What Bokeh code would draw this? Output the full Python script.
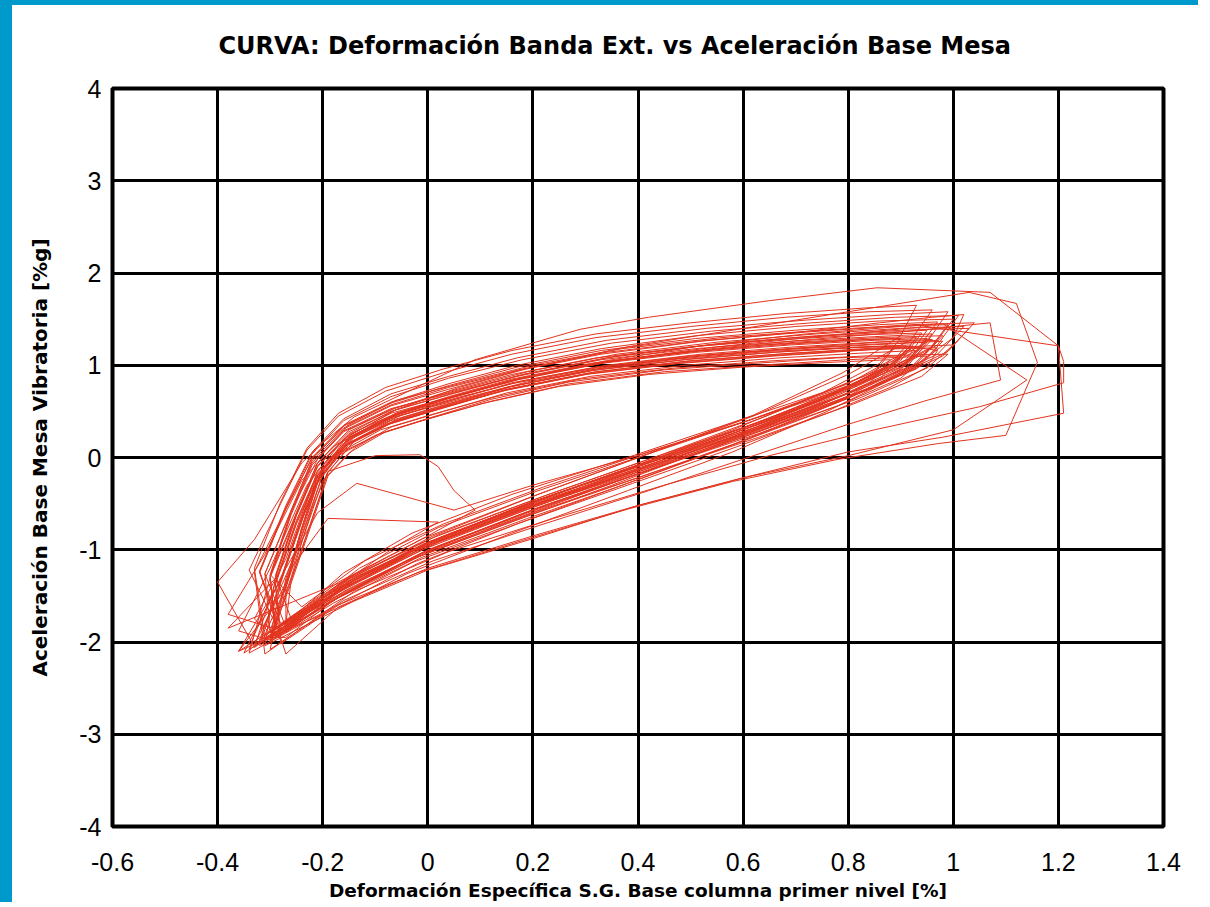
from bokeh.plotting import figure
from bokeh.models import FixedTicker, Range1d
from bokeh.embed import file_html
from bokeh.resources import INLINE

title_text = "CURVA: Deformación Banda Ext. vs Aceleración Base Mesa"
x_label = "Deformación Específica S.G. Base columna primer nivel [%]"
y_label = "Aceleración Base Mesa Vibratoria [%g]"

x_ticks = [-0.6, -0.4, -0.2, 0, 0.2, 0.4, 0.6, 0.8, 1, 1.2, 1.4]
x_tick_labels = ["-0.6", "-0.4", "-0.2", "0", "0.2", "0.4", "0.6", "0.8", "1", "1.2", "1.4"]
y_ticks = [-4, -3, -2, -1, 0, 1, 2, 3, 4]
y_tick_labels = ["-4", "-3", "-2", "-1", "0", "1", "2", "3", "4"]

# strain [%] trace, one row per cycle
strain = [
    -0.28, -0.24, -0.21, -0.16, -0.08, 0.02, 0.14, 0.30, 0.48, 0.66, 0.82, 0.94, 0.90, 0.78, 0.60, 0.40, 0.18, -0.02, -0.17, -0.29,
    -0.30, -0.25, -0.21, -0.15, -0.06, 0.05, 0.18, 0.34, 0.52, 0.70, 0.86, 0.98, 0.93, 0.80, 0.62, 0.42, 0.20, 0.00, -0.16, -0.31,
    -0.27, -0.23, -0.20, -0.15, -0.08, 0.01, 0.12, 0.27, 0.45, 0.62, 0.78, 0.90, 0.86, 0.74, 0.56, 0.36, 0.15, -0.04, -0.18, -0.27,
    -0.30, -0.26, -0.22, -0.19, -0.10, -0.015, 0.02, 0.05, 0.09, 0.00, -0.15, -0.28,
    -0.32, -0.27, -0.22, -0.16, -0.07, 0.04, 0.17, 0.33, 0.51, 0.70, 0.86, 1.00, 0.96, 0.84, 0.66, 0.46, 0.24, 0.03, -0.14, -0.30,
    -0.26, -0.22, -0.19, -0.14, -0.06, 0.04, 0.16, 0.32, 0.50, 0.68, 0.83, 0.92, 0.88, 0.76, 0.58, 0.38, 0.16, -0.03, -0.16, -0.26,
    -0.29, -0.25, -0.21, -0.15, -0.06, 0.05, 0.19, 0.36, 0.55, 0.74, 0.90, 1.02, 0.97, 0.84, 0.65, 0.44, 0.22, 0.01, -0.15, -0.33,
    -0.40, -0.33, -0.24, -0.20, -0.14, 0.09, 0.29, 0.42, 0.65, 0.855, 1.07, 1.20, 1.21, 0.98, 0.80, 0.60, 0.40, 0.20, 0.00, -0.20, -0.36,
    -0.27, -0.24, -0.21, -0.17, -0.10, -0.01, 0.10, 0.25, 0.42, 0.60, 0.76, 0.88, 0.84, 0.72, 0.54, 0.34, 0.13, -0.05, -0.19, -0.28,
    -0.34, -0.28, -0.23, -0.17, -0.08, 0.03, 0.16, 0.32, 0.50, 0.68, 0.84, 0.96, 0.92, 0.80, 0.62, 0.42, 0.20, -0.01, -0.17, -0.32,
    -0.28, -0.24, -0.20, -0.14, -0.05, 0.06, 0.19, 0.35, 0.53, 0.71, 0.86, 0.97, 0.92, 0.79, 0.61, 0.41, 0.19, -0.01, -0.17, -0.30,
    -0.36, -0.30, -0.23, -0.16, -0.06, 0.06, 0.20, 0.38, 0.58, 0.80, 1.03, 1.12, 1.16, 1.10, 0.97, 0.78, 0.58, 0.38, 0.18, -0.02, -0.18, -0.34,
    -0.30, -0.26, -0.22, -0.16, -0.07, 0.03, 0.16, 0.32, 0.50, 0.68, 0.83, 0.94, 0.90, 0.78, 0.60, 0.40, 0.19, -0.01, -0.16, -0.28,
    -0.29, -0.25, -0.21, -0.16, -0.09, 0.01, 0.13, 0.29, 0.47, 0.66, 0.83, 0.99, 0.94, 0.81, 0.63, 0.43, 0.21, 0.01, -0.15, -0.34,
    -0.33, -0.28, -0.21, -0.135, 0.05, 0.20, 0.40, 0.60, 0.80, 0.92, 0.86, 0.74, 0.56, 0.36, 0.15, -0.04, -0.18, -0.30,
    -0.31, -0.26, -0.21, -0.15, -0.06, 0.06, 0.20, 0.37, 0.56, 0.75, 0.92, 1.04, 0.99, 0.86, 0.67, 0.46, 0.24, 0.03, -0.14, -0.27,
    -0.27, -0.23, -0.20, -0.15, -0.07, 0.03, 0.15, 0.31, 0.49, 0.66, 0.81, 0.91, 0.87, 0.75, 0.57, 0.37, 0.16, -0.03, -0.18, -0.29,
    -0.38, -0.31, -0.24, -0.18, -0.09, 0.02, 0.16, 0.34, 0.55, 0.76, 0.95, 1.20, 1.21, 1.21, 1.05, 0.85, 0.65, 0.45, 0.24, 0.04, -0.14, -0.31,
    -0.33, -0.27, -0.22, -0.16, -0.07, 0.04, 0.18, 0.34, 0.53, 0.72, 0.88, 0.99, 0.95, 0.82, 0.64, 0.44, 0.22, 0.02, -0.15, -0.36,
    -0.28, -0.24, -0.20, -0.15, -0.06, 0.04, 0.17, 0.33, 0.51, 0.69, 0.85, 0.95, 0.90, 0.77, 0.58, 0.38, 0.17, -0.02, -0.17, -0.28,
    -0.29, -0.25, -0.21, -0.16, -0.08, 0.02, 0.15, 0.31, 0.49, 0.67, 0.84, 0.97, 0.93, 0.80, 0.62, 0.42, 0.20, 0.00, -0.15, -0.30,
    -0.33, -0.27, -0.22, -0.16, -0.07, 0.04, 0.17, 0.34, 0.53, 0.72, 0.90, 0.98, 1.14, 1.00, 0.80, 0.60, 0.40, 0.20, 0.00, -0.17, -0.27,
    -0.32, -0.27, -0.22, -0.16, -0.07, 0.04, 0.18, 0.35, 0.54, 0.73, 0.89, 1.01, 0.97, 0.85, 0.66, 0.45, 0.23, 0.02, -0.15, -0.30,
    -0.26, -0.22, -0.19, -0.14, -0.07, 0.03, 0.15, 0.31, 0.49, 0.67, 0.82, 0.93, 0.90, 0.78, 0.61, 0.42, 0.21, 0.02, -0.13, -0.25,
    -0.30, -0.26, -0.19, 0.02, -0.06, -0.16, -0.29,
    -0.30, -0.25, -0.21, -0.15, -0.06, 0.05, 0.18, 0.34, 0.52, 0.70, 0.85, 0.95, 0.91, 0.79, 0.61, 0.41, 0.19, -0.01, -0.17, -0.32,
    -0.28, -0.24, -0.21, -0.15, -0.07, 0.04, 0.16, 0.32, 0.50, 0.69, 0.85, 0.98, 0.93, 0.80, 0.61, 0.41, 0.19, -0.01, -0.16, -0.29,
    -0.31, -0.26, -0.21, -0.15, -0.06, 0.05, 0.18, 0.35, 0.54, 0.73, 0.90, 1.07, 1.09, 0.95, 0.80, 0.62, 0.42, 0.21, 0.01, -0.16, -0.30,
    -0.27, -0.23, -0.20, -0.14, -0.06, 0.04, 0.16, 0.31, 0.48, 0.64, 0.79, 0.90, 0.86, 0.75, 0.58, 0.39, 0.18, -0.01, -0.16, -0.27,
    -0.31, -0.26, -0.22, -0.16, -0.07, 0.04, 0.17, 0.33, 0.51, 0.70, 0.86, 0.97, 0.93, 0.81, 0.63, 0.43, 0.21, 0.01, -0.16, -0.33,
    -0.29, -0.25, -0.21, -0.15, -0.07, 0.03, 0.16, 0.32, 0.50, 0.69, 0.86, 1.00, 0.95, 0.82, 0.63, 0.42, 0.20, 0.00, -0.16, -0.31,
    -0.33, -0.28, -0.23, -0.17, -0.08, 0.03, 0.16, 0.32, 0.50, 0.68, 0.83, 0.93, 0.90, 0.79, 0.62, 0.42, 0.21, 0.01, -0.15, -0.30,
    -0.27, -0.24, -0.21, -0.17, -0.09, 0.00, 0.12, 0.27, 0.45, 0.63, 0.80, 0.95, 0.90, 0.78, 0.60, 0.40, 0.18, -0.02, -0.17, -0.29,
    -0.30, -0.26, -0.22, -0.16, -0.07, 0.05, 0.19, 0.36, 0.55, 0.74, 0.90, 1.03, 0.98, 0.85, 0.66, 0.45, 0.23, 0.02, -0.15, -0.35,
    -0.28, -0.24, -0.20, -0.14, -0.06, 0.05, 0.18, 0.34, 0.52, 0.70, 0.85, 0.96, 0.91, 0.79, 0.61, 0.41, 0.19, -0.01, -0.17, -0.27,
    -0.26, -0.22, -0.19, -0.14, -0.06, 0.04, 0.16, 0.31, 0.48, 0.65, 0.79, 0.89, 0.85, 0.74, 0.57, 0.38, 0.17, -0.02, -0.17, -0.28,
    -0.32, -0.27, -0.22, -0.16, -0.07, 0.04, 0.17, 0.34, 0.53, 0.72, 0.88, 0.99, 0.95, 0.83, 0.64, 0.44, 0.22, 0.01, -0.16, -0.38,
    -0.29, -0.25, -0.21, -0.15, -0.07, 0.04, 0.17, 0.33, 0.51, 0.69, 0.84, 0.93, 0.89, 0.77, 0.59, 0.40, 0.18, -0.02, -0.17, -0.30,
    -0.28, -0.24, -0.20, -0.15, -0.07, 0.03, 0.16, 0.32, 0.50, 0.68, 0.84, 0.95, 0.90, 0.76, 0.58, 0.38, 0.16, -0.04, -0.19, -0.31,
    -0.29, -0.25, -0.21, -0.15, -0.07, 0.04, 0.17, 0.33, 0.51, 0.69, 0.85, 0.96, 0.92, 0.80, 0.63, 0.43, 0.22, 0.03, -0.12, -0.24,
    -0.30, -0.26, -0.22, -0.16, -0.07, 0.04, 0.17, 0.33, 0.52, 0.71, 0.86, 0.96, 1.02, 1.00, 0.93, 0.82, 0.64, 0.44, 0.22, 0.02, -0.15, -0.33,
    -0.27, -0.23, -0.20, -0.15, -0.07, 0.03, 0.15, 0.31, 0.49, 0.67, 0.82, 0.92, 0.97, 0.95, 0.88, 0.77, 0.59, 0.39, 0.17, -0.03, -0.18, -0.29,
]

# table-base acceleration [%g] trace, same rows as strain
accel = [
    -1.35, -0.70, -0.20, 0.12, 0.35, 0.52, 0.72, 0.90, 1.02, 1.10, 1.16, 1.20, 0.95, 0.65, 0.28, -0.12, -0.55, -0.98, -1.42, -1.85,
    -1.30, -0.62, -0.10, 0.25, 0.48, 0.66, 0.86, 1.04, 1.16, 1.25, 1.30, 1.32, 1.02, 0.70, 0.32, -0.06, -0.48, -0.92, -1.38, -1.92,
    -1.40, -0.75, -0.25, 0.05, 0.28, 0.44, 0.63, 0.82, 0.95, 1.02, 1.08, 1.10, 0.85, 0.55, 0.15, -0.28, -0.72, -1.12, -1.55, -1.95,
    -1.95, -1.30, -0.55, -0.15, 0.02, 0.03, -0.10, -0.36, -0.57, -0.85, -1.30, -1.80,
    -1.25, -0.55, 0.00, 0.35, 0.60, 0.80, 1.00, 1.18, 1.32, 1.42, 1.48, 1.50, 1.20, 0.85, 0.42, 0.02, -0.40, -0.85, -1.30, -2.00,
    -1.32, -0.66, -0.16, 0.18, 0.40, 0.57, 0.77, 0.95, 1.07, 1.15, 1.20, 1.22, 1.00, 0.72, 0.38, 0.00, -0.40, -0.82, -1.25, -1.75,
    -1.28, -0.60, -0.06, 0.30, 0.54, 0.72, 0.93, 1.12, 1.25, 1.34, 1.40, 1.42, 1.12, 0.78, 0.36, -0.04, -0.46, -0.90, -1.36, -2.05,
    -1.35, -0.89, -0.06, 0.16, 0.44, 1.06, 1.39, 1.52, 1.70, 1.84, 1.79, 1.21, 0.48, 0.22, 0.06, -0.22, -0.52, -0.88, -1.22, -1.70, -2.10,
    -1.42, -0.78, -0.28, 0.02, 0.24, 0.40, 0.58, 0.77, 0.90, 0.98, 1.03, 1.06, 0.80, 0.50, 0.12, -0.30, -0.74, -1.15, -1.58, -1.92,
    -1.22, -0.50, 0.08, 0.45, 0.72, 0.92, 1.12, 1.30, 1.42, 1.52, 1.58, 1.60, 1.28, 0.90, 0.45, 0.04, -0.42, -0.88, -1.35, -1.98,
    -1.36, -0.68, -0.14, 0.22, 0.46, 0.63, 0.82, 0.99, 1.11, 1.19, 1.25, 1.27, 0.98, 0.62, 0.20, -0.22, -0.66, -1.08, -1.52, -1.98,
    -1.88, -1.20, -0.30, 0.20, 0.52, 0.76, 0.98, 1.20, 1.38, 1.58, 1.79, 1.67, 1.03, 0.24, 0.15, -0.02, -0.26, -0.56, -0.90, -1.25, -1.62, -2.12,
    -1.30, -0.62, -0.08, 0.28, 0.52, 0.70, 0.90, 1.08, 1.20, 1.28, 1.33, 1.35, 1.05, 0.72, 0.32, -0.08, -0.50, -0.94, -1.40, -1.88,
    -1.38, -0.72, -0.22, 0.08, 0.30, 0.47, 0.66, 0.85, 0.97, 1.05, 1.10, 1.12, 0.88, 0.58, 0.22, -0.16, -0.58, -1.00, -1.45, -2.08,
    -1.92, -1.30, -0.60, -0.28, -0.57, -0.30, 0.02, 0.38, 0.80, 1.18, 0.92, 0.62, 0.24, -0.16, -0.60, -1.02, -1.46, -1.90,
    -1.26, -0.58, -0.02, 0.36, 0.62, 0.80, 1.00, 1.18, 1.30, 1.38, 1.44, 1.46, 1.15, 0.80, 0.38, -0.02, -0.44, -0.88, -1.33, -1.90,
    -1.34, -0.68, -0.18, 0.16, 0.40, 0.57, 0.76, 0.94, 1.06, 1.14, 1.19, 1.21, 0.94, 0.62, 0.24, -0.16, -0.60, -1.02, -1.48, -1.86,
    -1.70, -1.05, -0.25, 0.12, 0.40, 0.62, 0.84, 1.04, 1.20, 1.32, 1.42, 1.21, 1.04, 0.81, 0.55, 0.30, 0.02, -0.30, -0.66, -1.02, -1.45, -2.13,
    -1.24, -0.56, 0.00, 0.32, 0.57, 0.76, 0.96, 1.14, 1.27, 1.36, 1.42, 1.44, 1.14, 0.78, 0.38, -0.02, -0.44, -0.88, -1.34, -2.10,
    -1.33, -0.66, -0.12, 0.22, 0.47, 0.64, 0.84, 1.02, 1.14, 1.22, 1.27, 1.29, 0.96, 0.58, 0.14, -0.28, -0.72, -1.15, -1.60, -2.02,
    -1.36, -0.70, -0.19, 0.13, 0.36, 0.53, 0.73, 0.91, 1.03, 1.11, 1.17, 1.19, 0.96, 0.66, 0.30, -0.10, -0.52, -0.95, -1.40, -1.90,
    -1.75, -1.10, -0.30, 0.18, 0.44, 0.64, 0.85, 1.05, 1.22, 1.34, 1.42, 1.45, 0.84, 0.30, 0.02, -0.22, -0.52, -0.85, -1.20, -1.62, -2.13,
    -1.24, -0.54, 0.04, 0.40, 0.66, 0.86, 1.06, 1.24, 1.37, 1.46, 1.52, 1.54, 1.22, 0.86, 0.44, 0.04, -0.40, -0.84, -1.30, -1.96,
    -1.36, -0.70, -0.20, 0.10, 0.33, 0.50, 0.70, 0.88, 1.00, 1.08, 1.13, 1.16, 0.98, 0.72, 0.40, 0.04, -0.36, -0.76, -1.20, -1.72,
    -1.88, -1.20, -0.66, -0.70, -0.96, -1.35, -1.85,
    -1.28, -0.60, -0.06, 0.28, 0.52, 0.70, 0.90, 1.08, 1.21, 1.30, 1.35, 1.38, 1.06, 0.70, 0.28, -0.12, -0.56, -1.00, -1.46, -2.04,
    -1.33, -0.66, -0.14, 0.20, 0.43, 0.61, 0.81, 0.98, 1.10, 1.18, 1.23, 1.26, 0.98, 0.64, 0.24, -0.16, -0.60, -1.03, -1.48, -1.94,
    -1.80, -1.15, -0.20, 0.22, 0.47, 0.66, 0.86, 1.04, 1.18, 1.28, 1.36, 1.46, 0.84, 0.62, 0.36, 0.02, -0.36, -0.74, -1.12, -1.55, -2.08,
    -1.31, -0.64, -0.10, 0.24, 0.48, 0.66, 0.85, 1.02, 1.14, 1.22, 1.27, 1.29, 1.02, 0.70, 0.30, -0.10, -0.52, -0.95, -1.42, -1.84,
    -1.26, -0.57, -0.02, 0.34, 0.59, 0.78, 0.98, 1.16, 1.29, 1.38, 1.44, 1.47, 1.16, 0.80, 0.38, -0.03, -0.46, -0.90, -1.36, -2.06,
    -1.35, -0.68, -0.17, 0.15, 0.38, 0.55, 0.75, 0.93, 1.05, 1.13, 1.19, 1.22, 0.97, 0.64, 0.26, -0.14, -0.57, -1.00, -1.46, -1.96,
    -1.20, -0.48, 0.10, 0.48, 0.76, 0.96, 1.16, 1.34, 1.46, 1.56, 1.62, 1.65, 1.32, 0.92, 0.46, 0.04, -0.40, -0.85, -1.32, -1.95,
    -1.40, -0.76, -0.26, 0.04, 0.26, 0.42, 0.61, 0.80, 0.93, 1.00, 1.06, 1.10, 0.86, 0.56, 0.18, -0.22, -0.65, -1.08, -1.52, -1.94,
    -1.28, -0.60, -0.06, 0.29, 0.53, 0.71, 0.91, 1.10, 1.23, 1.32, 1.38, 1.40, 1.10, 0.76, 0.35, -0.06, -0.48, -0.92, -1.38, -2.12,
    -1.32, -0.65, -0.12, 0.23, 0.46, 0.64, 0.83, 1.00, 1.12, 1.20, 1.25, 1.28, 1.00, 0.68, 0.28, -0.12, -0.55, -0.98, -1.44, -1.80,
    -1.33, -0.67, -0.16, 0.18, 0.41, 0.58, 0.77, 0.95, 1.07, 1.15, 1.19, 1.21, 0.92, 0.60, 0.20, -0.20, -0.63, -1.06, -1.50, -1.90,
    -1.23, -0.52, 0.06, 0.42, 0.69, 0.88, 1.08, 1.27, 1.40, 1.49, 1.55, 1.58, 1.25, 0.88, 0.44, 0.02, -0.42, -0.87, -1.34, -1.85,
    -1.31, -0.63, -0.10, 0.24, 0.48, 0.65, 0.85, 1.03, 1.15, 1.23, 1.28, 1.30, 1.02, 0.68, 0.28, -0.13, -0.56, -0.99, -1.45, -1.98,
    -1.34, -0.67, -0.15, 0.19, 0.42, 0.60, 0.80, 0.97, 1.09, 1.17, 1.22, 1.25, 0.90, 0.50, 0.06, -0.36, -0.82, -1.26, -1.70, -2.04,
    -1.30, -0.62, -0.09, 0.26, 0.50, 0.68, 0.88, 1.06, 1.18, 1.26, 1.31, 1.34, 1.08, 0.78, 0.44, 0.08, -0.32, -0.72, -1.12, -1.62,
    -1.27, -0.58, -0.04, 0.31, 0.56, 0.74, 0.94, 1.12, 1.26, 1.36, 1.46, 1.52, 1.55, 1.30, 1.00, 0.70, 0.30, -0.10, -0.52, -0.96, -1.42, -2.02,
    -1.36, -0.70, -0.19, 0.14, 0.37, 0.54, 0.74, 0.92, 1.04, 1.12, 1.17, 1.20, 1.16, 0.98, 0.76, 0.50, 0.12, -0.28, -0.72, -1.14, -1.58, -1.96,
]

assert len(strain) == len(accel)

BLUE = "#0099CC"
RED = "#E3341F"

p = figure(
    width=1198, height=902,
    x_range=Range1d(-0.6, 1.4), y_range=Range1d(-4, 4),
    output_backend="svg", toolbar_location=None,
    min_border_left=100, min_border_right=47, min_border_top=83, min_border_bottom=81,
    background_fill_color="white", border_fill_color="white",
)
p.styles = {"border-left": f"12px solid {BLUE}", "border-top": f"5px solid {BLUE}"}

p.title.text = title_text
p.title.align = "left"
p.title.offset = 106
p.title.vertical_align = "top"
p.title.text_font = "DejaVu Sans"
p.title.text_font_style = "bold"
p.title.text_font_size = "24px"
p.title.text_color = "black"
p.title.standoff = 53

p.line(strain, accel, line_color=RED, line_width=1)

p.xaxis.ticker = FixedTicker(ticks=x_ticks)
p.yaxis.ticker = FixedTicker(ticks=y_ticks)
p.xaxis.major_label_overrides = dict(zip(x_ticks, x_tick_labels))
p.yaxis.major_label_overrides = dict(zip(y_ticks, y_tick_labels))

for ax in (p.xaxis, p.yaxis):
    ax.axis_line_color = None
    ax.major_tick_line_color = None
    ax.minor_tick_line_color = None
    ax.major_label_text_font = "Liberation Sans"
    ax.major_label_text_font_size = "25px"
    ax.major_label_text_color = "black"
    ax.axis_label_text_font = "DejaVu Sans"
    ax.axis_label_text_font_style = "bold"
    ax.axis_label_text_color = "black"

p.xaxis.axis_label = x_label
p.xaxis.axis_label_text_font_size = "18.5px"
p.xaxis.major_label_standoff = 20
p.xaxis.axis_label_standoff = 6

p.yaxis.axis_label = y_label
p.yaxis.axis_label_text_font_size = "20px"
p.yaxis.major_label_standoff = 5
p.yaxis.axis_label_standoff = 24

for g in (p.xgrid, p.ygrid):
    g.grid_line_color = "black"
    g.grid_line_width = 3
    g.grid_line_alpha = 1.0

p.outline_line_color = "black"
p.outline_line_width = 4
p.outline_line_alpha = 1.0

open("out.html", "w").write(file_html(p, INLINE))
